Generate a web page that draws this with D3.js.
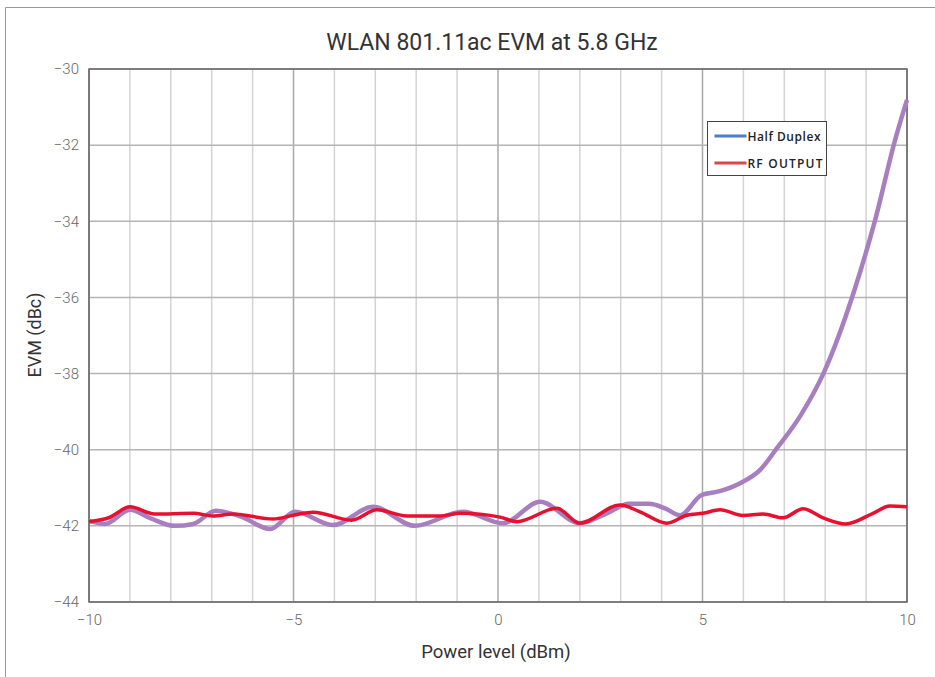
<!DOCTYPE html>
<html>
<head>
<meta charset="utf-8">
<script src="https://cdn.jsdelivr.net/npm/d3@7"></script>
<style>
  body { margin: 0; background: #fff; }
  svg { display: block; }
  .tick-label { font-family: 'Roboto', 'DejaVu Sans Condensed', sans-serif; font-size: 15px; fill: #666; font-weight: 300; }
</style>
</head>
<body>
<div id="chart"></div>
<script>
'use strict';

// power level (dBm) and EVM (dBc)
let halfDuplexX = [-10, -9.6, -9.0, -8.5, -7.9, -7.45, -6.9, -6.3, -5.57, -4.96, -4.03, -3.06, -2.03, -0.86, 0.12, 1.03, 2.0, 2.66, 3.2, 3.7, 4.1, 4.45, 4.98, 5.42, 5.92, 6.41, 6.82, 7.38, 7.96, 8.69, 9.22, 9.71, 10];
let halfDuplexY = [-41.87, -41.95, -41.58, -41.8, -42.0, -41.95, -41.6, -41.75, -42.08, -41.63, -41.98, -41.5, -42.0, -41.63, -41.93, -41.37, -41.93, -41.67, -41.42, -41.42, -41.55, -41.72, -41.19, -41.09, -40.88, -40.53, -39.96, -39.13, -37.99, -35.89, -33.97, -31.86, -30.81];

let rfOutputX = [-10, -9.5, -9.0, -8.4, -7.45, -6.97, -6.48, -5.5, -5.0, -4.52, -3.58, -2.96, -2.23, -1.42, -0.93, 0.05, 0.46, 1.44, 2.0, 2.98, 3.47, 4.13, 4.62, 5.01, 5.43, 5.99, 6.48, 6.97, 7.46, 7.95, 8.5, 9.17, 9.58, 10];
let rfOutputY = [-41.89, -41.78, -41.5, -41.69, -41.67, -41.74, -41.69, -41.82, -41.72, -41.64, -41.85, -41.58, -41.74, -41.74, -41.67, -41.77, -41.89, -41.54, -41.93, -41.45, -41.63, -41.93, -41.72, -41.67, -41.58, -41.73, -41.69, -41.79, -41.55, -41.79, -41.95, -41.67, -41.48, -41.5];

let xTicks = [-10, -5, 0, 5, 10];
let xMinor = d3.range(-10, 11, 1);
let yTicks = [-30, -32, -34, -36, -38, -40, -42, -44];
let legendNames = ['Half Duplex', 'RF OUTPUT'];
let legendColors = ['#4a7ec6', '#d9474a'];

let width = 935,
    height = 677,
    margin = { top: 69, right: 28, bottom: 75, left: 89 };
let w = 907 - margin.left,
    h = 602 - margin.top;

let svg = d3.select('#chart').append('svg')
    .attr('width', width)
    .attr('height', height);

// outer frame (only top and left visible)
svg.append('path')
    .attr('d', 'M5.5,' + height + 'V7.5H' + width)
    .attr('fill', 'none')
    .attr('stroke', '#999')
    .attr('stroke-width', 1);

let g = svg.append('g')
    .attr('transform', 'translate(' + margin.left + ',' + margin.top + ')');

let x = d3.scaleLinear().domain([-10, 10]).range([0, w]);
let y = d3.scaleLinear().domain([-44, -30]).range([h, 0]);

// vertical grid
g.selectAll('.vgrid')
    .data(xMinor)
    .enter().append('line')
    .attr('class', 'vgrid')
    .attr('x1', function(d) { return x(d); })
    .attr('x2', function(d) { return x(d); })
    .attr('y1', 0)
    .attr('y2', h)
    .style('stroke', function(d) { return d % 5 === 0 ? '#a8a8a8' : '#d4d4d4'; })
    .style('stroke-width', 1.5);

// horizontal grid
g.selectAll('.hgrid')
    .data(yTicks)
    .enter().append('line')
    .attr('class', 'hgrid')
    .attr('x1', 0)
    .attr('x2', w)
    .attr('y1', function(d) { return y(d); })
    .attr('y2', function(d) { return y(d); })
    .style('stroke', '#b4b4b4')
    .style('stroke-width', 1.5);

// plot frame
g.append('rect')
    .attr('width', w)
    .attr('height', h)
    .attr('fill', 'none')
    .attr('stroke', '#666')
    .attr('stroke-width', 1.5);

// axes
let xAxis = d3.axisBottom(x).tickValues(xTicks).tickSize(0).tickPadding(12)
    .tickFormat(function(d) { return d < 0 ? '\u2212' + Math.abs(d) : d; });
let yAxis = d3.axisLeft(y).tickValues(yTicks).tickSize(0).tickPadding(10)
    .tickFormat(function(d) { return '\u2212' + Math.abs(d); });

let gXaxis = g.append('g')
    .attr('transform', 'translate(0,' + h + ')')
    .call(xAxis);
let gYaxis = g.append('g').call(yAxis);

[gXaxis, gYaxis].forEach(function(ax) {
    ax.select('.domain').remove();
    ax.selectAll('text').attr('class', 'tick-label');
});

// lines
let line = d3.line()
    .x(function(d) { return x(d[0]); })
    .y(function(d) { return y(d[1]); })
    .curve(d3.curveMonotoneX);

let hdData = d3.zip(halfDuplexX, halfDuplexY);
let rfData = d3.zip(rfOutputX, rfOutputY);

g.append('path')
    .datum(hdData)
    .attr('d', line)
    .attr('fill', 'none')
    .attr('stroke', '#4a7ec6')
    .attr('stroke-width', 2);

g.append('path')
    .datum(hdData)
    .attr('d', line)
    .attr('fill', 'none')
    .attr('stroke', '#a77fc1')
    .attr('stroke-width', 4.5)
    .attr('stroke-linejoin', 'round');

g.append('path')
    .datum(rfData)
    .attr('d', line)
    .attr('fill', 'none')
    .attr('stroke', '#e8102e')
    .attr('stroke-width', 3.5)
    .attr('stroke-linejoin', 'round');

// legend
let legend = svg.append('g').attr('transform', 'translate(707.5,121.5)');
legend.append('rect')
    .attr('width', 119)
    .attr('height', 54)
    .attr('fill', '#fff')
    .attr('stroke', '#444')
    .attr('stroke-width', 1);

legendNames.forEach(function(name, i) {
    let ly = 14.5 + i * 27;
    legend.append('line')
        .attr('x1', 7).attr('x2', 39)
        .attr('y1', ly).attr('y2', ly)
        .attr('stroke', legendColors[i])
        .attr('stroke-width', 3);
    legend.append('text')
        .attr('x', 40)
        .attr('y', ly + 4.5)
        .attr('textLength', i === 0 ? 73 : 75)
        .style('font-family', "'Open Sans', sans-serif")
        .style('font-size', '12px')
        .style('font-weight', 600)
        .style('fill', '#222')
        .text(name);
});

// title and axis labels
svg.append('text')
    .attr('x', 492)
    .attr('y', 50)
    .attr('text-anchor', 'middle')
    .style('font-family', "'Roboto', sans-serif")
    .style('font-size', '23px')
    .style('fill', '#333')
    .text('WLAN 801.11ac EVM at 5.8 GHz');

svg.append('text')
    .attr('x', 496)
    .attr('y', 658)
    .attr('text-anchor', 'middle')
    .style('font-family', "'Roboto', sans-serif")
    .style('font-size', '18.5px')
    .style('fill', '#333')
    .text('Power level (dBm)');

svg.append('text')
    .attr('transform', 'translate(41,335) rotate(-90)')
    .attr('text-anchor', 'middle')
    .style('font-family', "'Roboto', sans-serif")
    .style('font-size', '18px')
    .style('fill', '#333')
    .text('EVM (dBc)');
</script>
</body>
</html>
